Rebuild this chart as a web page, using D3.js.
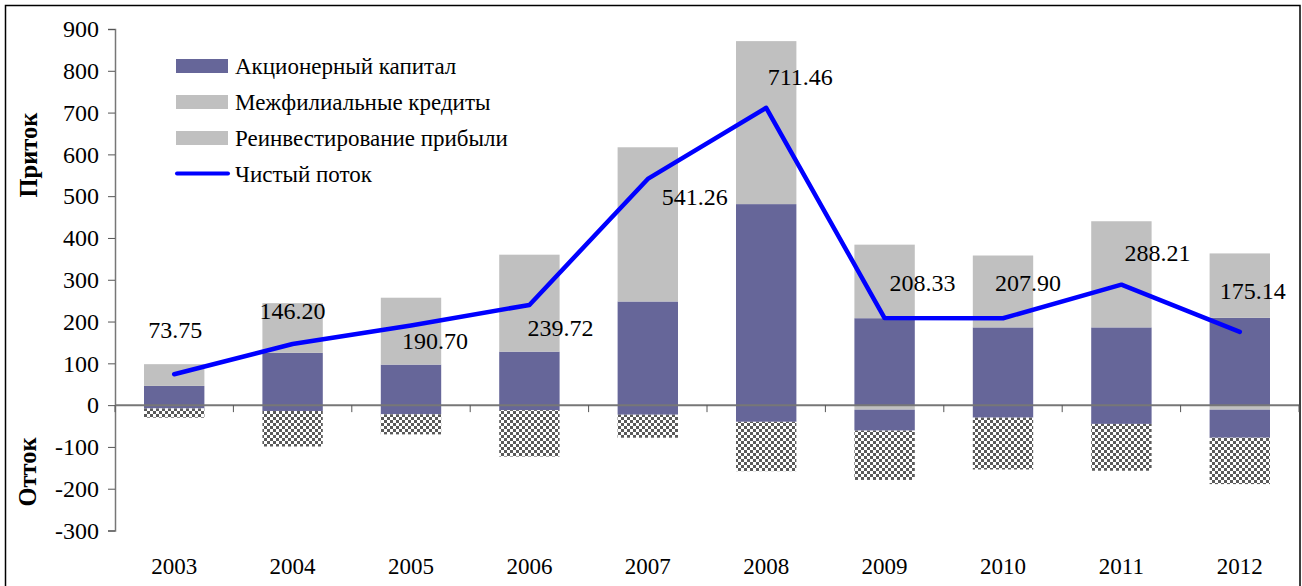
<!DOCTYPE html>
<html lang="ru">
<head>
<meta charset="UTF-8">
<title>Приток и отток</title>
<script src="https://d3js.org/d3.v7.min.js"></script>
<style>
  body { margin: 0; background: #fff; }
</style>
</head>
<body>
<script>
  const width  = 1302;
  const height = 586;
  const serif = "'Liberation Serif', 'Times New Roman', 'DejaVu Serif', serif";

  // data
  const years     = [2003, 2004, 2005, 2006, 2007, 2008, 2009, 2010, 2011, 2012];
  const equityIn  = [46, 125, 97, 128, 248, 481, 208, 186, 186, 209];
  const equityOut = [-8, -14, -22, -12, -23, -40, -50, -30, -45, -67];
  const loansIn   = [52, 119, 160, 232, 369, 390, 176, 172, 254, 154];
  const loansOut  = [-22, -85, -48, -111, -55, -118, -118, -124, -112, -111];
  const reinvOut  = [0, 0, 0, 0, 0, 0, -11, 0, 0, -11];
  const netFlow   = [73.75, 146.20, 190.70, 239.72, 541.26, 711.46, 208.33, 207.90, 288.21, 175.14];
  const yTicks    = [-300, -200, -100, 0, 100, 200, 300, 400, 500, 600, 700, 800, 900];
  const legendNames = ["Акционерный капитал", "Межфилиальные кредиты", "Реинвестирование прибыли", "Чистый поток"];

  // label placement relative to the line point (dx, dy)
  const labelShift = [[1,-44],[0,-33],[24,16],[31,23],[47,18],[34,-31],[38,-35],[25,-35],[36,-32],[13,-41]];

  const purple = "#666699", grey = "#c0c0c0", blue = "#0000ff";

  const x0 = 115, x1 = 1299;
  const x = d3.scaleBand().domain(years).range([x0, x1]).paddingInner(0.49).paddingOuter(0.245);
  const y = d3.scaleLinear().domain([-300, 900]).range([530.5, 29]);

  const rows = years.map((yr, i) => ({
    year: yr,
    reinvOut: reinvOut[i],
    equityIn: equityIn[i],
    equityOut: equityOut[i],
    loansIn: loansIn[i],
    loansOut: loansOut[i]
  }));
  const keys = ["reinvOut", "equityIn", "equityOut", "loansIn", "loansOut"];
  const fills = {reinvOut: grey, equityIn: purple, equityOut: purple, loansIn: grey, loansOut: "url(#checker)"};
  const series = d3.stack().keys(keys).offset(d3.stackOffsetDiverging)(rows);

  const svg = d3.select("body").append("svg")
      .attr("width", width).attr("height", height)
      .style("font-family", serif);

  const defs = svg.append("defs");
  const pat = defs.append("pattern").attr("id", "checker")
      .attr("patternUnits", "userSpaceOnUse").attr("width", 6).attr("height", 6);
  pat.append("rect").attr("width", 6).attr("height", 6).attr("fill", "#fff");
  pat.append("rect").attr("width", 3).attr("height", 3).attr("fill", "#5a5a5a");
  pat.append("rect").attr("x", 3).attr("y", 3).attr("width", 3).attr("height", 3).attr("fill", "#5a5a5a");

  // outer frame
  svg.append("rect").attr("x", 5.5).attr("y", 5.5).attr("width", 1294.5).attr("height", 590)
      .attr("fill", "none").attr("stroke", "#000").attr("stroke-width", 1.5);

  // bars
  svg.append("g").selectAll("g").data(series).join("g")
      .attr("fill", d => fills[d.key])
    .selectAll("rect").data(d => d).join("rect")
      .attr("x", d => x(d.data.year))
      .attr("width", x.bandwidth())
      .attr("y", d => y(Math.max(d[0], d[1])))
      .attr("height", d => Math.abs(y(d[0]) - y(d[1])));

  // y axis (plain hyphen for negatives, as in the source)
  const yAxis = d3.axisLeft(y).tickValues(yTicks).tickSize(7).tickPadding(9).tickFormat(d => String(d));
  const gy = svg.append("g").attr("transform", `translate(${x0},0)`).call(yAxis)
      .attr("font-family", null).attr("font-size", null);
  gy.select(".domain").attr("stroke", "#777").attr("stroke-width", 1.5);
  gy.selectAll(".tick line").attr("stroke", "#555");
  gy.selectAll(".tick text").style("font-family", serif).style("font-size", "24px").attr("fill", "#000");

  // zero line with category ticks
  const gx = svg.append("g").attr("transform", `translate(0,${y(0)})`);
  gx.append("line").attr("x1", x0).attr("x2", x1).attr("stroke", "#777").attr("stroke-width", 2);
  const bounds = years.map((yr, i) => x0 + i * x.step());
  bounds.push(x1);
  gx.selectAll("line.tk").data(bounds).join("line").attr("class", "tk")
      .attr("x1", d => d).attr("x2", d => d).attr("y1", 0).attr("y2", 7)
      .attr("stroke", "#555");

  // year labels
  svg.append("g").selectAll("text").data(years).join("text")
      .attr("x", d => x(d) + x.bandwidth() / 2)
      .attr("y", 574)
      .attr("text-anchor", "middle")
      .style("font-family", serif).style("font-size", "23px")
      .text(d => d);

  // net flow line
  const line = d3.line()
      .x((d, i) => x(years[i]) + x.bandwidth() / 2)
      .y(d => y(d));
  svg.append("path").datum(netFlow)
      .attr("d", line)
      .attr("fill", "none")
      .attr("stroke", blue)
      .attr("stroke-width", 4.5)
      .attr("stroke-linejoin", "round")
      .attr("stroke-linecap", "round");

  // data labels
  svg.append("g").selectAll("text").data(netFlow).join("text")
      .attr("x", (d, i) => x(years[i]) + x.bandwidth() / 2 + labelShift[i][0])
      .attr("y", (d, i) => y(d) + labelShift[i][1] + 8)
      .attr("text-anchor", "middle")
      .style("font-family", serif).style("font-size", "24px")
      .text(d => d3.format(".2f")(d));

  // axis titles
  svg.append("text")
      .attr("transform", "translate(37,155) rotate(-90)")
      .attr("text-anchor", "middle")
      .style("font-family", serif).style("font-size", "24.5px").style("font-weight", "bold")
      .text("Приток");
  svg.append("text")
      .attr("transform", "translate(36,472) rotate(-90)")
      .attr("text-anchor", "middle")
      .style("font-family", serif).style("font-size", "24.5px").style("font-weight", "bold")
      .text("Отток");

  // legend
  const lg = svg.append("g").attr("transform", "translate(176,66)");
  const legendFill = [purple, grey, grey];
  legendNames.forEach((name, i) => {
    const row = lg.append("g").attr("transform", `translate(0,${i * 36})`);
    if (i < 3) {
      row.append("rect").attr("x", 0).attr("y", -7).attr("width", 52).attr("height", 14)
         .attr("fill", legendFill[i]);
    } else {
      row.append("line").attr("x1", 1).attr("x2", 52).attr("y1", -0.5).attr("y2", -0.5)
         .attr("stroke", blue).attr("stroke-width", 4).attr("stroke-linecap", "round");
    }
    row.append("text").attr("x", 59).attr("y", 8)
       .style("font-family", serif).style("font-size", "23px")
       .text(name);
  });
</script>
</body>
</html>
